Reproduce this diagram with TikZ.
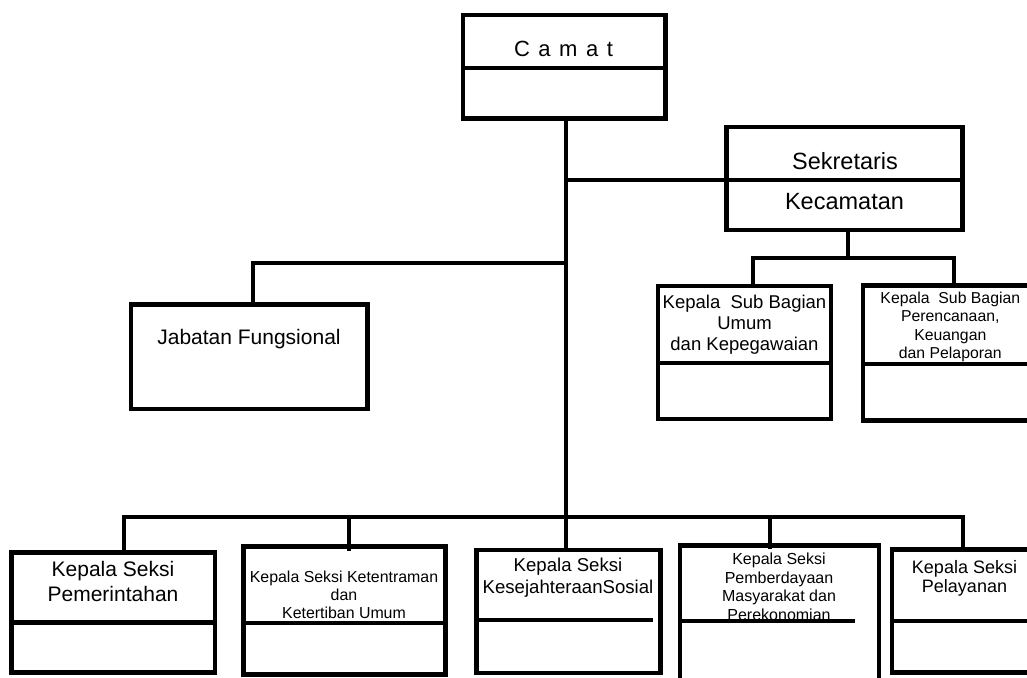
\documentclass[tikz,border=0pt]{standalone}
\usepackage{fontspec}
\setmainfont{Liberation Sans}
\usetikzlibrary{positioning}

\begin{document}
\begin{tikzpicture}[x=1pt, y=-1pt,
		orgbox/.style 2 args={rectangle, draw=black, line width=4.5pt, minimum width=#1, minimum height=#2, inner sep=0pt, outer sep=0pt, anchor=north west},
		divider/.style={line width=4.5pt},
		link/.style={line width=4pt},
		boxtext/.style 2 args={align=center, inner sep=0pt, font=\fontsize{#1}{#2}\selectfont},
		]
		\useasboundingbox (0,0) rectangle (1027,677);
		
		%Boxes
		\node[orgbox={202.7pt}{103.5pt}] (camat)    at (462.8,14.8)  {};
		\node[orgbox={236pt}{103.2pt}]   (sek)      at (726.7,126.8) {};
		\node[orgbox={236.5pt}{104.5pt}] (jab)      at (131,304.5)   {};
		\node[orgbox={173pt}{133pt}]     (sub-umum) at (658,286)     {};
		\node[orgbox={175pt}{135pt}]     (sub-renc) at (863,285.5)   {};
		\node[orgbox={203.3pt}{120pt}]   (pem)      at (11.7,552.5)  {};
		\node[orgbox={202pt}{128.2pt}]   (tib)      at (243.5,546.5) {};
		\node[orgbox={184pt}{122.8pt}]   (kesos)    at (476.7,550)   {};
		\node[orgbox={199.2pt}{150pt}]   (pmd)      at (680,545.5)   {};
		\node[orgbox={146pt}{123pt}]     (pel)      at (892,549.5)   {};
		
		%Texts
		\node[boxtext={22}{26}] (camat-txt)    at (563.5,49)    {\spaceskip=8.5pt C a m a t};
		\node[boxtext={23.5}{28}] (sek-txt)    at (845,161)     {Sekretaris};
		\node[boxtext={23.5}{28}] (kec-txt)    at (844.5,202)   {Kecamatan};
		\node[boxtext={21}{25}] (jab-txt)      at (249,339)     {Jabatan Fungsional};
		\node[boxtext={18.5}{21}] (sub-umum-txt) at (744.5,325) {Kepala~~Sub Bagian\\Umum\\dan Kepegawaian};
		\node[boxtext={15.8}{18.3}] (sub-renc-txt) at (950.3,327) {Kepala~~Sub Bagian\\Perencanaan,\\Keuangan\\dan Pelaporan};
		\node[boxtext={21}{25}] (pem-txt)      at (113,581)     {Kepala Seksi\\Pemerintahan};
		\node[boxtext={15.9}{18}] (tib-txt)    at (344,595)     {Kepala Seksi Ketentraman\\dan\\Ketertiban Umum};
		\node[boxtext={18.6}{22}] (kesos-txt)  at (568,578)     {Kepala Seksi\\KesejahteraanSosial};
		\node[boxtext={16}{18.5}] (pmd-txt)    at (779,587)     {Kepala Seksi\\Pemberdayaan\\Masyarakat dan\\Perekonomian};
		\node[boxtext={18}{19.5}] (pel-txt)    at (964.5,578.5) {Kepala Seksi\\Pelayanan};
		
		%Dividers
		\draw[divider] ([yshift=-53.4pt]camat.north west) -- ([yshift=-53.4pt]camat.north east);
		\draw[divider] ([yshift=-53.2pt]sek.north west) -- ([yshift=-53.2pt]sek.north east);
		\draw[divider] ([yshift=-77pt]sub-umum.north west) -- ([yshift=-77pt]sub-umum.north east);
		\draw[divider] ([yshift=-78.5pt]sub-renc.north west) -- ([yshift=-78.5pt]sub-renc.north east);
		\draw[divider] ([yshift=-70pt]pem.north west) -- ([yshift=-70pt]pem.north east);
		\draw[divider] ([yshift=-76.5pt]tib.north west) -- ([yshift=-76.5pt]tib.north east);
		\draw[divider] ([yshift=-70pt]kesos.north west) -- ([yshift=-70pt,xshift=-8pt]kesos.north east);
		\draw[divider] ([yshift=-75.3pt]pmd.north west) -- ([yshift=-75.3pt,xshift=-24.2pt]pmd.north east);
		\draw[divider] ([yshift=-71.3pt]pel.north west) -- ([yshift=-71.3pt]pel.north east);
		
		%Junctions
		\coordinate (j-sek)  at (566,180);
		\coordinate (j-jab)  at (566,262.5);
		\coordinate (j-bus)  at (566,516.5);
		\coordinate (j-sub)  at (848,258);
		\coordinate (d-jab)  at (252.5,262.5);
		\coordinate (d-umum) at (753,258);
		\coordinate (d-renc) at (954,258);
		\coordinate (d-pem)  at (124,516.5);
		\coordinate (d-tib)  at (349,516.5);
		\coordinate (d-pmd)  at (770,516.5);
		\coordinate (d-pel)  at (962.5,516.5);
		
		%Lines
		\draw[link] (camat.south -| j-bus) -- (kesos.north -| j-bus);
		\draw[link] (j-sek) -- (sek.west |- j-sek);
		\draw[link] (j-jab) -- (d-jab) -- (jab.north -| d-jab);
		\draw[link] (sek.south -| j-sub) -- (j-sub);
		\draw[link] (sub-umum.north -| d-umum) -- (d-umum) -- (d-renc) -- (sub-renc.north -| d-renc);
		\draw[link] (pem.north -| d-pem) -- (d-pem) -- (d-pel) -- (pel.north -| d-pel);
		\draw[link] (d-tib) -- ([yshift=-4pt]tib.north -| d-tib);
		\draw[link] (d-pmd) -- ([yshift=-3pt]pmd.north -| d-pmd);
	\end{tikzpicture}
\end{document}
